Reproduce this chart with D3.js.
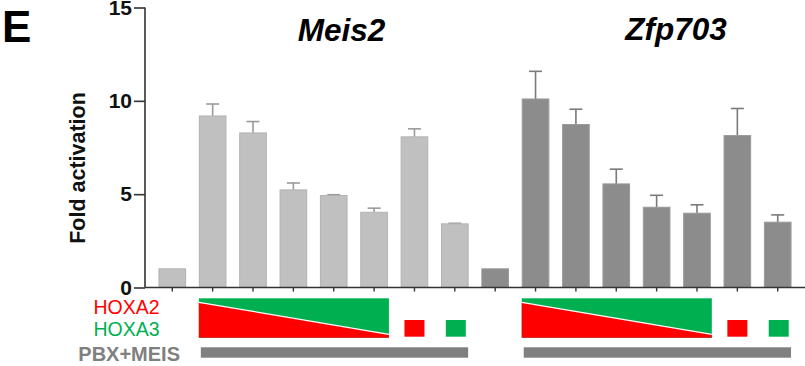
<!DOCTYPE html>
<html>
<head>
<meta charset="utf-8">
<script src="https://cdn.jsdelivr.net/npm/d3@7/dist/d3.min.js"></script>
<style>
  html, body { margin: 0; padding: 0; background: #fff; }
  svg { display: block; font-family: "Liberation Sans", Arial, sans-serif; }
</style>
</head>
<body>
<svg id="chart" width="805" height="366"></svg>
<script>
// Reporter assay: fold activation of two enhancers
const genes = ["Meis2", "Zfp703"];
const conditions = ["control", "A2:A3 1", "A2:A3 2", "A2:A3 3", "A2:A3 4", "A2:A3 5", "HOXA2", "HOXA3"];
const meis2Values = [1, 9.19, 8.28, 5.23, 4.93, 4.03, 8.07, 3.41];
const meis2Errors = [0, 0.64, 0.61, 0.37, 0.04, 0.22, 0.43, 0.03];
const zfp703Values = [1, 10.1, 8.73, 5.55, 4.3, 3.98, 8.14, 3.5];
const zfp703Errors = [0, 1.48, 0.82, 0.79, 0.64, 0.45, 1.45, 0.39];
const yTicks = [0, 5, 10, 15];

// which conditions carry which factor
const gradientConditions = [1, 2, 3, 4, 5];
const hoxa2Only = [6];
const hoxa3Only = [7];
const pbxMeisConditions = [1, 2, 3, 4, 5, 6, 7];

const groups = [
  { gene: genes[0], values: meis2Values, errors: meis2Errors, fill: "#c0c0c0", edge: "#b2b2b2", err: "#9a9a9a", titleX: 341.5, titleY: 41 },
  { gene: genes[1], values: zfp703Values, errors: zfp703Errors, fill: "#8c8c8c", edge: "#9a9a9a", err: "#7a7a7a", titleX: 676, titleY: 40 }
];

const rows = [];
groups.forEach((g, gi) => g.values.forEach((v, ci) => rows.push({
  key: gi * conditions.length + ci, group: g, gi, ci, value: v, error: g.errors[ci]
})));

const svg = d3.select("#chart");
const x = d3.scaleBand().domain(rows.map(r => r.key)).range([145, 805])
  .paddingInner(0.34).paddingOuter(0.346);
const y = d3.scaleLinear().domain([0, 15]).range([287.5, 7.5]);
const bw = x.bandwidth();

// error bars (upper whisker only)
const eb = svg.append("g");
rows.filter(r => r.error > 0).forEach(r => {
  const cx = x(r.key) + bw / 2;
  eb.append("line").attr("x1", cx).attr("x2", cx)
    .attr("y1", y(r.value)).attr("y2", y(r.value + r.error))
    .attr("stroke", r.group.err).attr("stroke-width", 1.6);
  eb.append("line").attr("x1", cx - 6.5).attr("x2", cx + 6.5)
    .attr("y1", y(r.value + r.error)).attr("y2", y(r.value + r.error))
    .attr("stroke", r.group.err).attr("stroke-width", 1.6);
});

// bars
svg.append("g").selectAll("rect").data(rows).join("rect")
  .attr("x", r => x(r.key))
  .attr("width", bw)
  .attr("y", r => y(r.value))
  .attr("height", r => y(0) - y(r.value))
  .attr("fill", r => r.group.fill)
  .attr("stroke", r => r.group.edge)
  .attr("stroke-width", 1);

// y axis
const yAxis = svg.append("g").attr("transform", "translate(145,0)")
  .call(d3.axisLeft(y).tickValues(yTicks).tickSize(11).tickPadding(2).tickFormat(d3.format("d")));
yAxis.select(".domain").attr("stroke", "#333").attr("stroke-width", 1.6)
  .attr("d", `M0,${y(15)}V${y(0)}`);
yAxis.selectAll(".tick line").attr("stroke", "#333").attr("stroke-width", 1.6);
yAxis.selectAll(".tick text").attr("fill", "#111")
  .style("font-family", "'Liberation Sans', Arial, sans-serif")
  .style("font-size", "21px").style("font-weight", "bold");

// x axis
const xAxis = svg.append("g").attr("transform", `translate(0,${y(0)})`)
  .call(d3.axisBottom(x).tickSize(4).tickFormat(""));
xAxis.select(".domain").attr("stroke", "#333").attr("stroke-width", 1.6)
  .attr("d", "M145,0H805");
xAxis.selectAll(".tick line").attr("stroke", "#333").attr("stroke-width", 1.4);

// y label
svg.append("text").attr("transform", "translate(85,168) rotate(-90)")
  .attr("text-anchor", "middle").attr("font-size", 21.5).attr("font-weight", "bold")
  .attr("fill", "#111").text("Fold activation");

// panel letter
svg.append("text").attr("x", 2).attr("y", 41.5).attr("font-size", 44)
  .attr("font-weight", "bold").attr("fill", "#000").text("E");

// gene titles
svg.append("g").selectAll("text").data(groups).join("text")
  .attr("x", g => g.titleX).attr("y", g => g.titleY)
  .attr("text-anchor", "middle").attr("font-size", 31.5)
  .attr("font-weight", "bold").attr("font-style", "italic").attr("fill", "#000")
  .text(g => g.gene);

// condition legend under the axis
const leg = svg.append("g");
leg.append("text").attr("x", 159.5).attr("y", 313.5).attr("text-anchor", "end")
  .attr("font-size", 19.5).attr("fill", "#ff0000").text("HOXA2");
leg.append("text").attr("x", 159.5).attr("y", 335.7).attr("text-anchor", "end")
  .attr("font-size", 19.5).attr("fill", "#00b050").text("HOXA3");
leg.append("text").attr("x", 180).attr("y", 361).attr("text-anchor", "end")
  .attr("font-size", 20).attr("font-weight", "bold").attr("fill", "#808080").text("PBX+MEIS");

groups.forEach((g, gi) => {
  const k = ci => gi * conditions.length + ci;
  const gx0 = x(k(gradientConditions[0])) - 0.5;
  const gx1 = x(k(gradientConditions[gradientConditions.length - 1])) + bw + 1.5;
  const top = 298.3, bot = 337.7;
  leg.append("rect").attr("x", gx0).attr("y", top).attr("width", gx1 - gx0)
    .attr("height", bot - top).attr("fill", "#00b050");
  leg.append("path")
    .attr("d", `M${gx0},302.3L${gx1},334.3L${gx1},${bot}L${gx0},${bot}Z`)
    .attr("fill", "#ff0000");
  leg.append("line").attr("x1", gx0).attr("y1", 302.3).attr("x2", gx1).attr("y2", 334.3)
    .attr("stroke", "#fff").attr("stroke-width", 1.3);

  hoxa2Only.forEach(ci => {
    const cx = x(k(ci)) + bw / 2;
    leg.append("rect").attr("x", cx - 10).attr("y", 320).attr("width", 20)
      .attr("height", 16.7).attr("fill", "#ff0000");
  });
  hoxa3Only.forEach(ci => {
    const cx = x(k(ci)) + bw / 2 + 1;
    leg.append("rect").attr("x", cx - 10).attr("y", 320).attr("width", 20)
      .attr("height", 16.7).attr("fill", "#00b050");
  });

  const px0 = x(k(pbxMeisConditions[0])) + 1.5;
  const px1 = x(k(pbxMeisConditions[pbxMeisConditions.length - 1])) + bw;
  leg.append("rect").attr("x", px0).attr("y", 347.3).attr("width", px1 - px0)
    .attr("height", 10.4).attr("fill", "#808080");
});
</script>
</body>
</html>
